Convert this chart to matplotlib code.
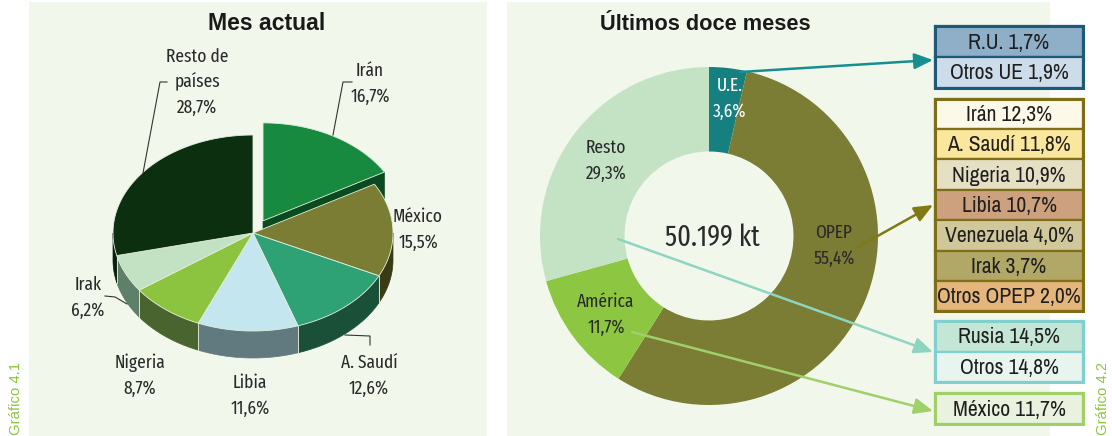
import os
import numpy as np
import matplotlib
matplotlib.use("Agg")
import matplotlib.pyplot as plt
from matplotlib.patches import Polygon, Rectangle, FancyArrowPatch
from matplotlib.textpath import TextPath
from matplotlib import font_manager
from matplotlib.font_manager import FontProperties

# ---------------- data ----------------
mes_labels = ["Irán", "México", "A. Saudí", "Libia", "Nigeria", "Irak", "Resto de\npaíses"]
mes_values = [16.7, 15.5, 12.6, 11.6, 8.7, 6.2, 28.7]

doce_labels = ["U.E.", "OPEP", "América", "Resto"]
doce_values = [3.6, 55.4, 11.7, 29.3]
doce_total = "50.199 kt"

ue_labels = ["R.U.", "Otros UE"]
ue_values = [1.7, 1.9]
opep_labels = ["Irán", "A. Saudí", "Nigeria", "Libia", "Venezuela", "Irak", "Otros OPEP"]
opep_values = [12.3, 11.8, 10.9, 10.7, 4.0, 3.7, 2.0]
resto_labels = ["Rusia", "Otros"]
resto_values = [14.5, 14.8]
america_labels = ["México"]
america_values = [11.7]


def pct(v):
    return f"{v:.1f}".replace(".", ",") + "%"


# ---------------- fonts ----------------
def find_condensed(order):
    bad = ["bold", "black", "light", "thin", "medium", "semibold", "extrabold", "italic", "oblique", "heavy"]
    cands = []
    for f in font_manager.fontManager.ttflist:
        key = (f.name + " " + os.path.basename(f.fname)).lower()
        st = str(f.stretch).lower()
        if not ("narrow" in key or "condensed" in key or "condensed" in st):
            continue
        if f.style != "normal" or any(b in key for b in bad):
            continue
        if "narrow" in key:
            kind = "narrow"
        elif "semi" in key or "semi" in st:
            kind = "semi"
        elif "extra" in key or "ultra" in key or "extra" in st:
            kind = "extra"
        else:
            kind = "cond"
        cands.append((order.index(kind), f.fname))
    cands.sort()
    return cands[0][1] if cands else None


box_file = find_condensed(["narrow", "cond", "semi", "extra"])
lab_file = find_condensed(["extra", "cond", "narrow", "semi"])


def mk(file):
    def f(size):
        if file:
            return FontProperties(fname=file, size=size)
        return FontProperties(family="Liberation Sans", size=size)
    return f


box_fp = mk(box_file)
lab_fp = mk(lab_file)


def sans_fp(size, weight="normal"):
    return FontProperties(family="Liberation Sans", size=size, weight=weight)


TXT = "#2a2a2a"
W, H = 1112, 436
fig = plt.figure(figsize=(W / 100, H / 100), dpi=100)
fig.patch.set_facecolor("white")
renderer = fig.canvas.get_renderer()


def fit(text, target_px, maker, **kw):
    t = fig.text(0, 0, text, fontproperties=maker(10, **kw))
    w = t.get_window_extent(renderer=renderer).width
    t.remove()
    return 10 * target_px / w


def fit_cap(cap_px, maker, **kw):
    h = TextPath((0, 0), "H", prop=maker(10, **kw)).get_extents().height
    return 10 * cap_px / (h * 100 / 72)


def size_for(text, width_px, cap_px, maker, slack=1.0):
    return min(fit(text, width_px * slack, maker), fit_cap(cap_px, maker))


bg = fig.add_axes([0, 0, 1, 1])
bg.set_xlim(0, W)
bg.set_ylim(H, 0)
bg.axis("off")
PANEL = "#f2f7ec"
bg.add_patch(Rectangle((29, 2), 458, 434, fc=PANEL, ec="none", zorder=0))
bg.add_patch(Rectangle((507, 2), 543, 434, fc=PANEL, ec="none", zorder=0))

# ---------------- left: 3D pie ----------------
cx, cy, rx, ry, depth = 253, 233, 140, 98, 27
top_colors = ["#178a40", "#7b7d34", "#2ea274", "#c3e6ef", "#8cc43f", "#c2e2c3", "#0c2f10"]
side_colors = ["#0a4a1f", "#3a3a15", "#1a5038", "#617a80", "#4a6430", "#5e7f68", "#07200b"]
explode = [20, 0, 0, 0, 0, 0, 0]

vals = np.array(mes_values, dtype=float)
fr = vals / vals.sum()
ends = 90 - 360 * np.cumsum(fr)
starts = ends + 360 * fr


def pt(theta, ox, oy, dz=0.0):
    t = np.radians(theta)
    return (cx + ox + rx * np.cos(t), cy + oy - ry * np.sin(t) + dz)


for i in range(len(vals)):
    mid = np.radians((starts[i] + ends[i]) / 2)
    ox = explode[i] * np.cos(mid)
    oy = -explode[i] * np.sin(mid) * ry / rx
    c0 = (cx + ox, cy + oy)
    if explode[i] > 0:
        for a in (ends[i], starts[i]):
            r0 = pt(a, ox, oy)
            poly = [c0, r0, (r0[0], r0[1] + depth), (c0[0], c0[1] + depth)]
            bg.add_patch(Polygon(poly, closed=True, fc=side_colors[i], ec=side_colors[i], lw=0.5, zorder=2))
    lo = max(ends[i], -180.0)
    hi = min(starts[i], 0.0)
    if lo < hi:
        th = np.linspace(hi, lo, 60)
        upper = [pt(t, ox, oy) for t in th]
        lower = [pt(t, ox, oy, depth) for t in th[::-1]]
        bg.add_patch(Polygon(upper + lower, closed=True, fc=side_colors[i], ec=side_colors[i], lw=0.5, zorder=2))
        for t in (hi, lo):
            if -180 < t < 0:
                p = pt(t, ox, oy)
                bg.plot([p[0], p[0]], [p[1], p[1] + depth], color="#d8e2d2", lw=0.6, zorder=2.5)
    th = np.linspace(starts[i], ends[i], 120)
    poly = [c0] + [pt(t, ox, oy) for t in th]
    bg.add_patch(Polygon(poly, closed=True, fc=top_colors[i], ec="#e4ecde", lw=0.6, zorder=3))

# labels of the 3D pie: (x centre, baseline of first line)
lab_size = size_for("Resto de", 50, 13, lab_fp, slack=1.3)
lab_pos = [(370, 76), (418, 222), (369, 368), (250, 388), (140, 368), (88, 290), (197, 62)]
PITCH = 25.5
for lab, v, (x, y) in zip(mes_labels, mes_values, lab_pos):
    lines = lab.split("\n") + [pct(v)]
    for k, s in enumerate(lines):
        bg.text(x, y + k * PITCH, s, ha="center", va="baseline", fontproperties=lab_fp(lab_size),
                color=TXT, zorder=5)

leaders = [
    [(167, 82), (160, 82), (143, 173)],
    [(352, 82), (343, 82), (333, 135)],
    [(345, 335), (370, 336), (370, 345)],
    [(105, 296), (115, 297), (127, 304)],
]
for ln in leaders:
    xs, ys = zip(*ln)
    bg.plot(xs, ys, color="#333333", lw=0.8, zorder=4)

t1 = fit("Mes actual", 117, sans_fp, weight="bold")
t2 = fit("Últimos doce meses", 211, sans_fp, weight="bold")
bg.text(267, 30, "Mes actual", ha="center", va="baseline", fontproperties=sans_fp(t1, "bold"), color="#1a1a1a")
bg.text(705, 30, "Últimos doce meses", ha="center", va="baseline", fontproperties=sans_fp(t2, "bold"),
        color="#1a1a1a")

g_size = fit("Gráfico 4.1", 73, sans_fp)
bg.text(16, 398, "Gráfico 4.1", rotation=90, ha="center", va="center", fontproperties=sans_fp(g_size),
        color="#8dc63f")
bg.text(1103, 398, "Gráfico 4.2", rotation=90, ha="center", va="center", fontproperties=sans_fp(g_size),
        color="#8dc63f")

# ---------------- right: donut ----------------
dcx, dcy, dr = 709, 236, 169
da = fig.add_axes([(dcx - dr) / W, (H - dcy - dr) / H, 2 * dr / W, 2 * dr / H])
donut_colors = ["#15807f", "#7a7d33", "#8dc641", "#c3e3c4"]
da.pie(doce_values, colors=donut_colors, startangle=90, counterclock=False, radius=1.0,
       wedgeprops=dict(width=0.5, edgecolor="none"))
da.set_xlim(-1, 1)
da.set_ylim(-1, 1)
da.axis("off")

ov = fig.add_axes([0, 0, 1, 1])
ov.set_xlim(0, W)
ov.set_ylim(H, 0)
ov.axis("off")
ov.patch.set_alpha(0)

d_size = size_for("29,3%", 38, 13, lab_fp, slack=1.3)
donut_lab_pos = [(730, 91), (834, 238), (606, 307), (606, 153)]
donut_lab_col = ["white", TXT, TXT, TXT]
for lab, v, (x, y), c in zip(doce_labels, doce_values, donut_lab_pos, donut_lab_col):
    for k, s in enumerate([lab, pct(v)]):
        ov.text(x, y + k * 26, s, ha="center", va="baseline", fontproperties=lab_fp(d_size), color=c, zorder=5)
c_size = size_for(doce_total, 76, 21, lab_fp, slack=1.25)
ov.text(712, 246, doce_total, ha="center", va="baseline", fontproperties=lab_fp(c_size), color=TXT)

# ---------------- breakdown boxes ----------------
bx0, bx1 = 935, 1083
b_size = fit("Otros OPEP 2,0%", 143, box_fp)


def draw_box(ytop, rowh, labels, values, fills, border):
    n = len(labels)
    for k, (lab, v, fc) in enumerate(zip(labels, values, fills)):
        y = ytop + k * rowh
        ov.add_patch(Rectangle((bx0, y), bx1 - bx0, rowh, fc=fc, ec=border, lw=1.6, zorder=3))
        ov.text((bx0 + bx1) / 2, y + rowh / 2 + 7, f"{lab} {pct(v)}", ha="center", va="baseline",
                fontproperties=box_fp(b_size), color="#1e1e1e", zorder=4)
    ov.add_patch(Rectangle((bx0, ytop), bx1 - bx0, rowh * n, fc="none", ec=border, lw=2.2, zorder=4))


draw_box(26, 31, ue_labels, ue_values, ["#8eafc7", "#cddceb"], "#1d5a78")
draw_box(98.5, 30.4, opep_labels, opep_values,
         ["#fdf9e8", "#fbe69e", "#e5e0c4", "#cda17e", "#d0c89b", "#b1a767", "#e4b67b"], "#7f6d17")
draw_box(321, 30.5, resto_labels, resto_values, ["#c3e6d5", "#e8f5ef"], "#7fd0cf")
draw_box(393, 31, america_labels, america_values, ["#e9f2de"], "#9fcf66")

# ---------------- arrows ----------------
arrows = [
    ((740, 72), (933, 60), "#16908f"),
    ((858, 247), (933, 205), "#807a12"),
    ((618, 239), (933, 352), "#8dd5c0"),
    ((632, 332), (933, 411), "#a0d06a"),
]
for a, b, c in arrows:
    ov.add_patch(FancyArrowPatch(a, b, arrowstyle="-|>,head_length=0.75,head_width=0.32",
                                 mutation_scale=15, lw=1.8, color=c, shrinkA=0, shrinkB=0, zorder=6))

fig.savefig("out.png", dpi=100, facecolor="white")
